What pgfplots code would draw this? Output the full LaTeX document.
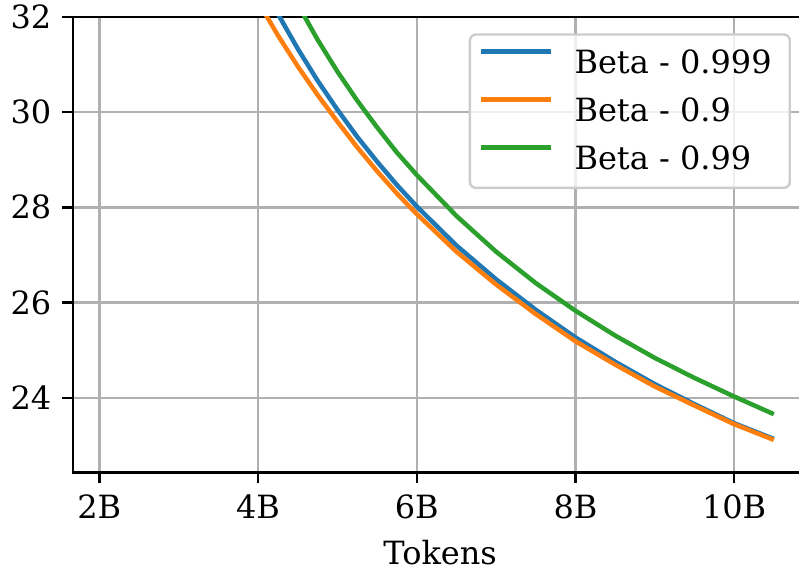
\documentclass[border=0pt]{standalone}
\usepackage{fontspec}
\setmainfont{DejaVu Serif}
\usepackage{pgfplots}
\pgfplotsset{compat=1.18}
\definecolor{tabblue}{HTML}{1F77B4}
\definecolor{taborange}{HTML}{FF7F0E}
\definecolor{tabgreen}{HTML}{2CA02C}
\definecolor{gridgray}{HTML}{B0B0B0}
\definecolor{leggray}{HTML}{CCCCCC}
\begin{document}
\rmfamily\fontsize{16}{19.2}\selectfont
\begin{tikzpicture}
\begin{axis}[name=ax,
  scale only axis, width=366.85pt, height=227.8pt,
  xmin=1.672, xmax=10.918, ymin=22.44, ymax=32,
  xtick={2,4,6,8,10}, xticklabels={2B,4B,6B,8B,10B},
  ytick={24,26,28,30,32},
  xtick pos=lower, ytick pos=left,
  tick align=outside, major tick length=5.5pt,
  every tick/.style={black, line width=1.2pt},
  axis line style={line width=1.2pt},
  grid=major, major grid style={gridgray, line width=1.2pt},
  /pgf/number format/assume math mode=true,
  tick label style={font=\rmfamily\fontsize{16}{19.2}\selectfont},
  label style={font=\rmfamily\fontsize{16}{19.2}\selectfont},
  xlabel={Tokens},
  legend cell align=left,
  legend style={at={(1,1)}, anchor=north east, xshift=-8pt, yshift=-8.3pt,
    draw=leggray, line width=1.2pt, rounded corners=3pt,
    fill=white, fill opacity=0.8, text opacity=1,
    inner xsep=4.55pt, inner ysep=2.2pt, column sep=10.5pt, row sep=0pt,
    font=\rmfamily\fontsize{16}{19.2}\selectfont,
    nodes={inner sep=0pt, text height=17.2pt, text depth=6.9pt}},
  legend image code/.code={\draw[#1, line width=2.25pt] (0pt,5.83pt) -- (35pt,5.83pt);},
  every axis plot/.append style={line width=2.25pt},
]
\addplot[tabblue] coordinates {
(4.0,32.87) (4.25,32.06) (4.5,31.33) (4.75,30.66) (5.0,30.05) (5.25,29.48)
(5.5,28.96) (5.75,28.47) (6.0,28.02) (6.5,27.20) (7.0,26.49) (7.5,25.85)
(8.0,25.27) (8.5,24.76) (9.0,24.29) (9.5,23.87) (10.0,23.47) (10.5,23.14)};
\addlegendentry{Beta - 0.999\rule{4.5pt}{0pt}}
\addplot[taborange] coordinates {
(4.0,32.32) (4.25,31.61) (4.5,30.96) (4.75,30.36) (5.0,29.80) (5.25,29.26)
(5.5,28.76) (5.75,28.29) (6.0,27.86) (6.5,27.07) (7.0,26.38) (7.5,25.76)
(8.0,25.19) (8.5,24.70) (9.0,24.24) (9.5,23.84) (10.0,23.45) (10.5,23.12)};
\addlegendentry{Beta - 0.9}
\addplot[tabgreen] coordinates {
(4.25,33.08) (4.5,32.26) (4.75,31.52) (5.0,30.85) (5.25,30.24)
(5.5,29.68) (5.75,29.15) (6.0,28.68) (6.5,27.82) (7.0,27.07) (7.5,26.41)
(8.0,25.83) (8.5,25.31) (9.0,24.84) (9.5,24.42) (10.0,24.03) (10.5,23.66)};
\addlegendentry{Beta - 0.99}
\end{axis}
\pgfresetboundingbox
\path[use as bounding box] ([shift={(-36.65pt,-47.85pt)}]ax.south west) rectangle ([shift={(362.85pt,236.15pt)}]ax.south west);
\end{tikzpicture}
\end{document}
